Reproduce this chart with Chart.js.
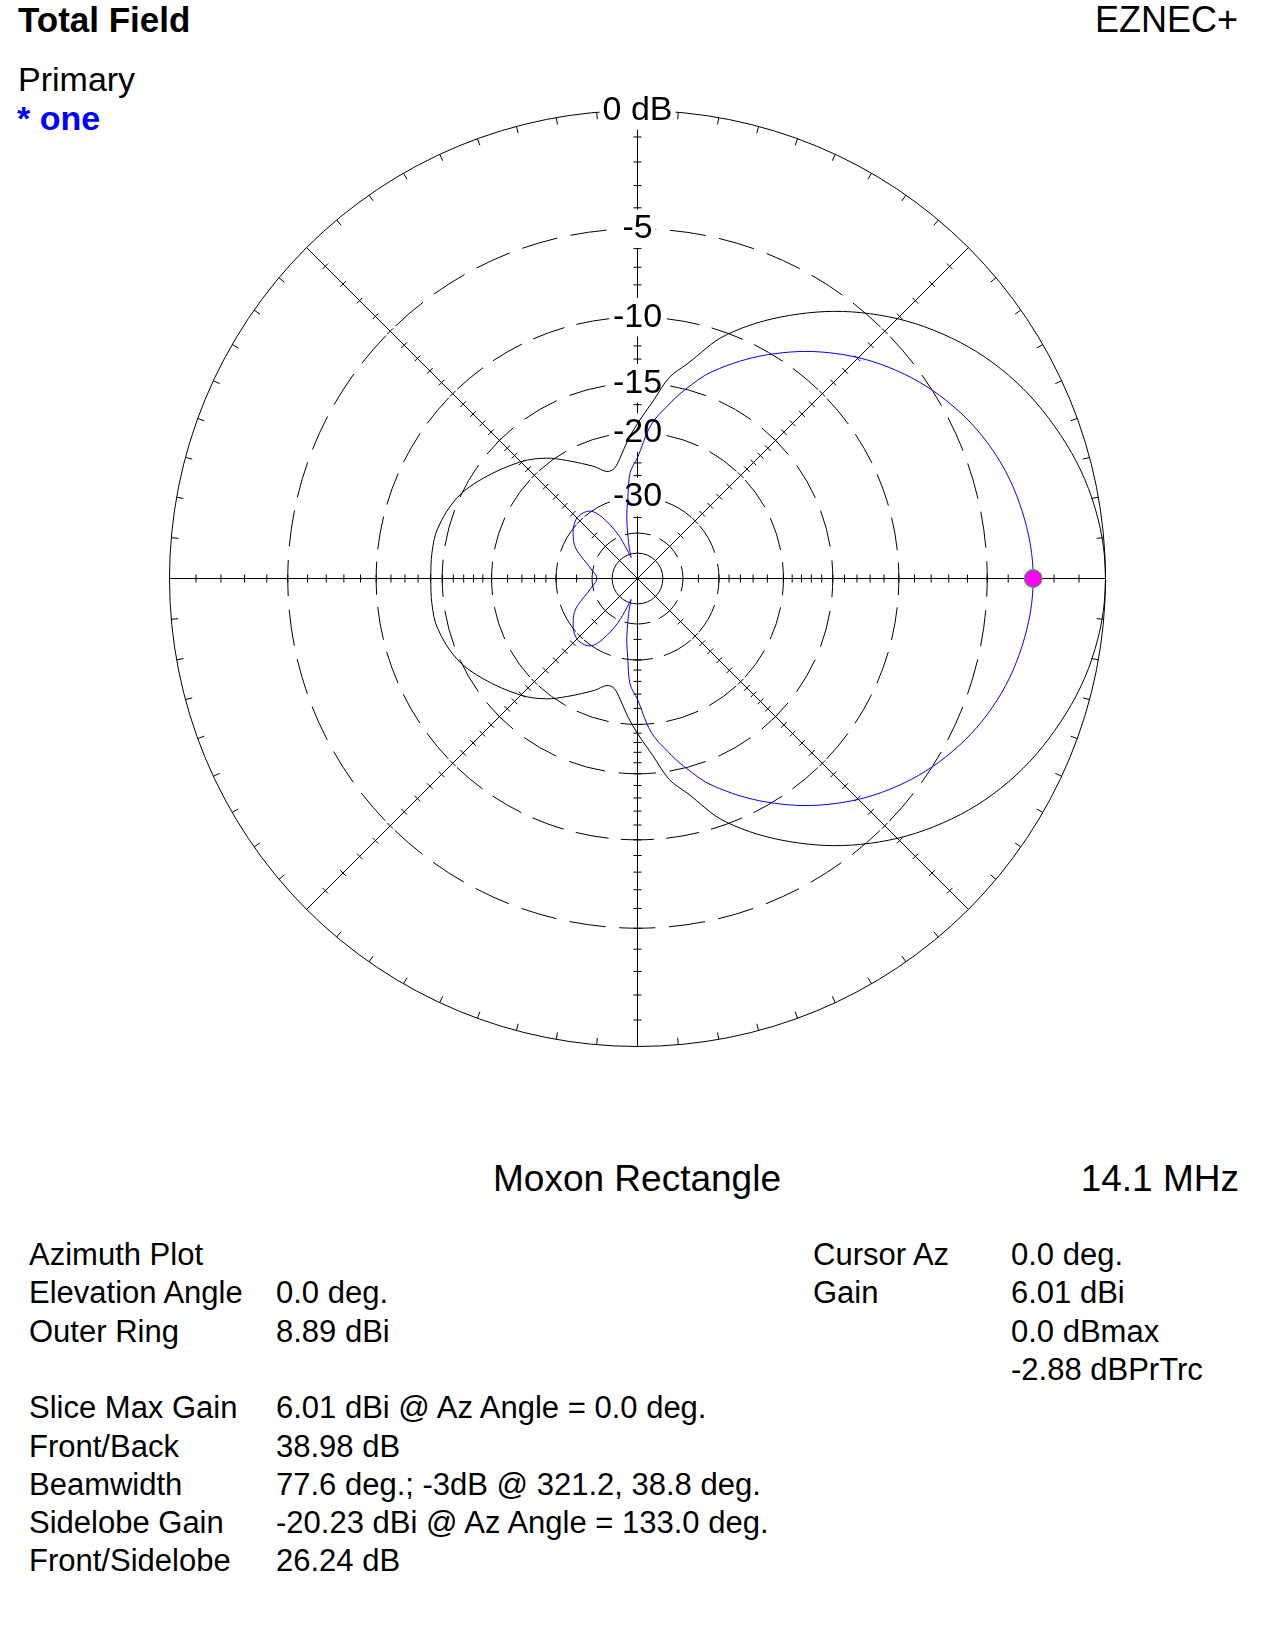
<!DOCTYPE html>
<html>
<head>
<meta charset="utf-8">
<title>Total Field - Moxon Rectangle</title>
<script src="https://cdn.jsdelivr.net/npm/chart.js@4.4.1/dist/chart.umd.min.js"></script>
<style>
  body { margin: 0; background: #fff; color: #000; font-family: "Liberation Sans", Arial, Helvetica, sans-serif; }
  #page { position: relative; width: 1275px; height: 1650px; overflow: hidden; background: #fff; }
  .t { position: absolute; white-space: pre; line-height: 1; }
  .row { position: absolute; white-space: pre; font-size: 31px; line-height: 1; }
  #plot { position: absolute; left: 150px; top: 91px; width: 975px; height: 975px; }
</style>
</head>
<body>
<div id="page">
  <div class="t" style="left:18px; top:2px; font-size:35px; font-weight:bold;">Total Field</div>
  <div class="t" style="right:37px; top:1.5px; font-size:36px;">EZNEC+</div>
  <div class="t" style="left:18px; top:62px; font-size:34px;">Primary</div>
  <div class="t" style="left:17px; top:101px; font-size:34px; font-weight:bold; color:#0000ff;">* one</div>

  <div id="plot"><canvas id="polar"></canvas></div>

  <div class="t" style="left:0; width:1274px; text-align:center; top:1160px; font-size:37px;">Moxon Rectangle</div>
  <div class="t" style="right:36px; top:1160px; font-size:37px;">14.1 MHz</div>

  <div class="row" style="left:29px; top:1239px;">Azimuth Plot</div>
  <div class="row" style="left:29px; top:1277px;">Elevation Angle</div>
  <div class="row" style="left:276px; top:1277px;">0.0 deg.</div>
  <div class="row" style="left:29px; top:1315.5px;">Outer Ring</div>
  <div class="row" style="left:276px; top:1315.5px;">8.89 dBi</div>

  <div class="row" style="left:29px; top:1392px;">Slice Max Gain</div>
  <div class="row" style="left:276px; top:1392px;">6.01 dBi @ Az Angle = 0.0 deg.</div>
  <div class="row" style="left:29px; top:1430.5px;">Front/Back</div>
  <div class="row" style="left:276px; top:1430.5px;">38.98 dB</div>
  <div class="row" style="left:29px; top:1468.5px;">Beamwidth</div>
  <div class="row" style="left:276px; top:1468.5px;">77.6 deg.; -3dB @ 321.2, 38.8 deg.</div>
  <div class="row" style="left:29px; top:1507px;">Sidelobe Gain</div>
  <div class="row" style="left:276px; top:1507px;">-20.23 dBi @ Az Angle = 133.0 deg.</div>
  <div class="row" style="left:29px; top:1545px;">Front/Sidelobe</div>
  <div class="row" style="left:276px; top:1545px;">26.24 dB</div>

  <div class="row" style="left:813px; top:1239px;">Cursor Az</div>
  <div class="row" style="left:1011px; top:1239px;">0.0 deg.</div>
  <div class="row" style="left:813px; top:1277px;">Gain</div>
  <div class="row" style="left:1011px; top:1277px;">6.01 dBi</div>
  <div class="row" style="left:1011px; top:1315.5px;">0.0 dBmax</div>
  <div class="row" style="left:1011px; top:1354px;">-2.88 dBPrTrc</div>
</div>

<script>
// Outer ring of the plot, dBi. EZNEC uses the ARRL log scale:
// the radius shrinks by 0.89 for every 2 dB below the outer ring.
var outerRingDbi = 8.89;

// Rings (dB below outer ring) and their labels
var ringDb = [-50, -40, -30, -20, -15, -10, -5, 0];
var ringLabels = ['', '', '-30', '-20', '-15', '-10', '-5', '0 dB'];

// Spokes and the small dB ticks along them
var spokeAz = [0, 45, 90, 135, 180, 225, 270, 315];
var spokeTickDb = [-1, -2, -3, -4, -5, -6, -7, -8, -9, -10, -11, -12, -13, -14, -15, -16, -17, -18, -19, -20,
                   -22, -24, -26, -28, -30, -35];
var rimTickStepDeg = 5;

// Trace "one" (blue), azimuth deg / gain dBi
var blueAz = [0, 10, 20, 30, 40, 50, 60, 70, 76, 80, 85, 90, 94, 97, 100, 103, 105, 107, 108, 110, 114,
              120, 125, 133, 140, 147, 153, 158, 164, 170, 175, 180,
              185, 190, 196, 202, 207, 213, 220, 227, 235, 240, 246, 250, 252, 253, 255, 257, 260, 263, 266,
              270, 275, 280, 284, 290, 300, 310, 320, 330, 340, 350];
var blueDbi = [6.01, 5.78, 5.20, 4.21, 2.81, 0.97, -1.32, -4.02, -6.22, -7.90, -10.19, -14.35, -16.60, -21.43,
               -25.80, -32.49, -37.15, -43.59, -42.09, -37.70, -29.84,
               -23.57, -20.94, -20.23, -20.79, -22.17, -23.70, -25.91, -28.80, -30.93, -32.50, -32.97,
               -32.50, -30.93, -28.80, -25.91, -23.70, -22.17, -20.79, -20.23, -20.94, -23.57, -29.84,
               -37.70, -42.09, -43.59, -37.15, -32.49, -25.80, -21.43, -16.60,
               -14.35, -10.19, -7.90, -6.22, -4.02, -1.32, 0.97, 2.81, 4.21, 5.20, 5.78];

// Second trace (black), azimuth deg / gain dBi
var blackAz = [0, 10, 20, 30, 40, 50, 60, 70, 77, 81, 85, 90, 94, 98, 102, 106, 111, 116, 121, 127, 135,
               147, 156, 166, 173, 180,
               187, 194, 204, 213, 225, 233, 239, 244, 249, 254, 258, 262, 266, 270, 275, 279, 283,
               290, 300, 310, 320, 330, 340, 350];
var blackDbi = [8.89, 8.65, 7.99, 7.01, 5.60, 3.76, 1.47, -1.25, -4.06, -5.40, -7.70, -10.08, -12.00, -14.10,
                -15.60, -15.75, -14.50, -13.35, -12.10, -10.56, -9.00,
                -7.13, -5.89, -5.19, -5.10, -5.14,
                -5.10, -5.19, -5.89, -7.13, -9.00, -10.56, -12.10, -13.35, -14.50, -15.75, -15.60, -14.10,
                -12.00, -10.08, -7.70, -5.40, -4.06,
                -1.25, 1.47, 3.76, 5.60, 7.01, 7.99, 8.65];

// Cursor
var cursorAz = [0];
var cursorDbi = [6.01];

function relRadius(db) { return Math.pow(0.89, -db / 2); }
function toRadius(dbi) { return relRadius(dbi - outerRingDbi); }

// one radar label per degree; index 0 is at the top (az 90), going clockwise
function azToIndex(az) { return (450 - az) % 360; }
function indexToAz(i) { return (450 - i) % 360; }

var labels = [];
for (var i = 0; i < 360; i++) labels.push(String(indexToAz(i)));

function onGrid(az, dbi) {
  var out = new Array(360).fill(null);
  az.forEach(function (a, k) { out[azToIndex(a)] = toRadius(dbi[k]); });
  return out;
}

// dashes sized so one dash sits centred on each axis
function ringPeriod(ctx) {
  var r = ctx.scale.getDistanceFromCenterForValue(ctx.tick.value);
  var n = Math.max(8, Math.round(2 * Math.PI * r / 48 / 4) * 4);
  return 2 * Math.PI * r / n;
}
function isSolidRing(ctx) {
  var db = ringDb[ctx.index - 1];
  return db === 0 || db === -50;
}

var spokeTicks = {
  id: 'spokeTicks',
  beforeDraw: function (chart) {
    var s = chart.scales.r, c = chart.ctx;
    // half-pixel shift keeps the 1px axis lines sharp
    c.save();
    c.translate(0.5, 0.5);
    c.save();
    c.strokeStyle = '#000';
    c.lineWidth = 1;
    c.beginPath();
    spokeAz.forEach(function (az) {
      var idx = azToIndex(az);
      var a = s.getIndexAngle(idx) - Math.PI / 2;
      var nx = -Math.sin(a), ny = Math.cos(a);
      spokeTickDb.forEach(function (db) {
        var p = s.getPointPositionForValue(idx, relRadius(db));
        c.moveTo(p.x - nx * 4, p.y - ny * 4);
        c.lineTo(p.x + nx * 4, p.y + ny * 4);
      });
    });
    for (var az = 0; az < 360; az += rimTickStepDeg) {
      var idx = azToIndex(az);
      var p0 = s.getPointPosition(idx, s.drawingArea);
      var p1 = s.getPointPosition(idx, s.drawingArea - 7);
      c.moveTo(p0.x, p0.y);
      c.lineTo(p1.x, p1.y);
    }
    c.stroke();
    c.restore();
  },
  afterDraw: function (chart) {
    chart.ctx.restore();
  }
};

var ctx = document.getElementById('polar').getContext('2d');
var chart = new Chart(ctx, {
  type: 'radar',
  data: {
    labels: labels,
    datasets: [{
      label: 'cursor',
      data: onGrid(cursorAz, cursorDbi),
      showLine: false,
      borderWidth: 0,
      pointRadius: 9,
      pointBackgroundColor: '#ff00ff',
      pointBorderColor: '#00e000',
      pointBorderWidth: 1
    }, {
      label: 'one',
      data: onGrid(blueAz, blueDbi),
      borderColor: '#0000ff',
      borderWidth: 1,
      spanGaps: true,
      tension: 0.35,
      fill: false,
      pointRadius: 0
    }, {
      label: 'total',
      data: onGrid(blackAz, blackDbi),
      borderColor: '#000000',
      borderWidth: 1,
      spanGaps: true,
      tension: 0.35,
      fill: false,
      pointRadius: 0
    }]
  },
  options: {
    responsive: true,
    maintainAspectRatio: false,
    animation: false,
    events: [],
    layout: { padding: 0 },
    plugins: {
      legend: { display: false },
      tooltip: { enabled: false }
    },
    scales: {
      r: {
        min: 0,
        max: 1,
        startAngle: 0,
        afterBuildTicks: function (scale) {
          scale.ticks = [{ value: 0 }].concat(ringDb.map(function (d) { return { value: relRadius(d) }; }));
        },
        ticks: {
          display: true,
          callback: function (v, i) { return i === 0 ? '' : ringLabels[i - 1]; },
          color: '#000',
          font: { family: '"Liberation Sans", Arial, sans-serif', size: 34 },
          backdropColor: '#ffffff',
          backdropPadding: { top: 2.25, bottom: 2.25, left: 3, right: 3 },
          showLabelBackdrop: function (c) { return !!(c.tick && c.tick.label); }
        },
        grid: { circular: true, color: '#000', lineWidth: 1 },
        border: {
          dash: function (c) {
            if (isSolidRing(c)) return [];
            var p = ringPeriod(c);
            return [p * 0.73, p * 0.27];
          },
          dashOffset: function (c) {
            if (isSolidRing(c)) return 0;
            return ringPeriod(c) * 0.73 / 2;
          }
        },
        angleLines: {
          display: true,
          color: '#000',
          lineWidth: function (c) { return spokeAz.indexOf(indexToAz(c.index)) >= 0 ? 1 : 0; }
        },
        pointLabels: { display: false }
      }
    }
  },
  plugins: [spokeTicks]
});
</script>
</body>
</html>
